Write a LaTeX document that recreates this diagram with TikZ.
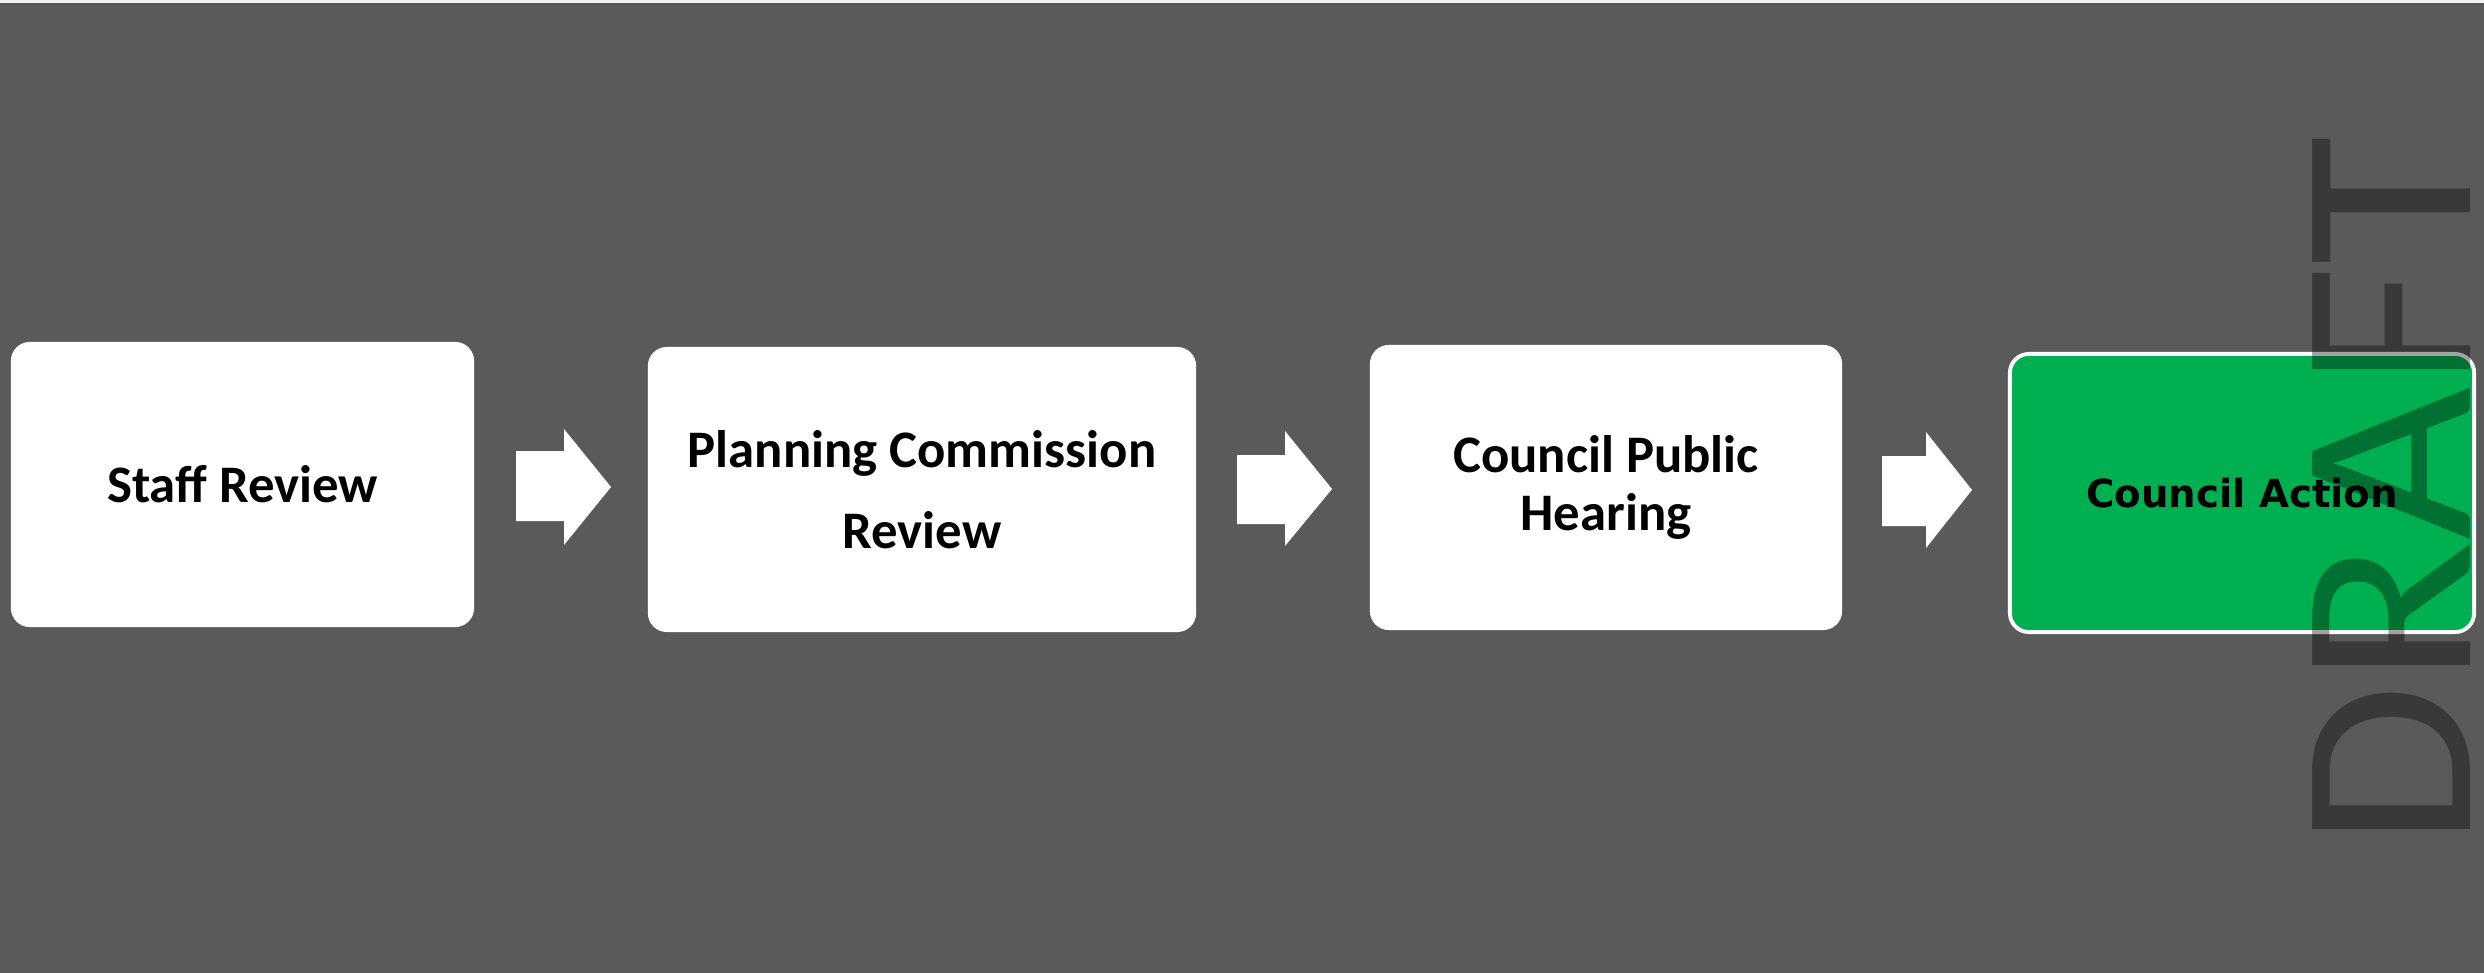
\documentclass[tikz,border=0pt]{standalone}
\usepackage{fontspec}
\setmainfont{Carlito}
\newfontfamily\actionfont{DejaVu Sans}
\definecolor{slide}{HTML}{5A5A5A}
\definecolor{topstrip}{HTML}{F2F2F2}
\definecolor{actiongreen}{HTML}{00B050}

\begin{document}
\begin{tikzpicture}[
    x = 0.01cm,
    y = -0.01cm,
    stage/.style = {rectangle, rounded corners=0.19cm, fill=white,
              inner sep=0pt, outer sep=0pt, align=center,
              font=\bfseries\fontsize{15}{18}\selectfont},
    blockarrow/.style = {fill=white, draw=none},
    ]

% page
\fill [slide] (0,0) rectangle (2484,973);
\fill [topstrip] (0,0) rectangle (2484,3);
\useasboundingbox (0,0) rectangle (2484,973);

\node[stage, minimum width=4.63cm, minimum height=2.85cm] (staff) at (242.5,484.5){Staff Review};
\node[stage, minimum width=5.48cm, minimum height=2.85cm,
      font=\bfseries\fontsize{15}{23}\selectfont] (commission) at (922,489.5){Planning Commission\\Review};
\node[stage, minimum width=4.72cm, minimum height=2.85cm,
      font=\bfseries\fontsize{15}{16.5}\selectfont] (hearing) at (1606,487.5){Council Public\\Hearing};
\node[stage, fill=actiongreen, draw=white, line width=1.1pt,
      minimum width=4.64cm, minimum height=2.78cm,
      font=\actionfont\bfseries\fontsize{11}{13}\selectfont] (action) at (2242,493){Council Action};

% arrows between stages
\fill [blockarrow] (516,451) -- (564,451) -- (564,429) -- (611,487) -- (564,545) -- (564,521) -- (516,521) -- cycle;
\fill [blockarrow] (1237,455) -- (1285,455) -- (1285,431) -- (1332,489) -- (1285,546) -- (1285,524) -- (1237,524) -- cycle;
\fill [blockarrow] (1882,456) -- (1926,456) -- (1926,432) -- (1972,490) -- (1926,548) -- (1926,526) -- (1882,526) -- cycle;

% watermark
\node [rotate=90, inner sep=0pt, text=black, text opacity=0.36,
       font=\fontsize{70}{70}\selectfont] (draft) at (2392,492){\scalebox{1.077}[1]{DRAFT}};

\end{tikzpicture}
\end{document}
